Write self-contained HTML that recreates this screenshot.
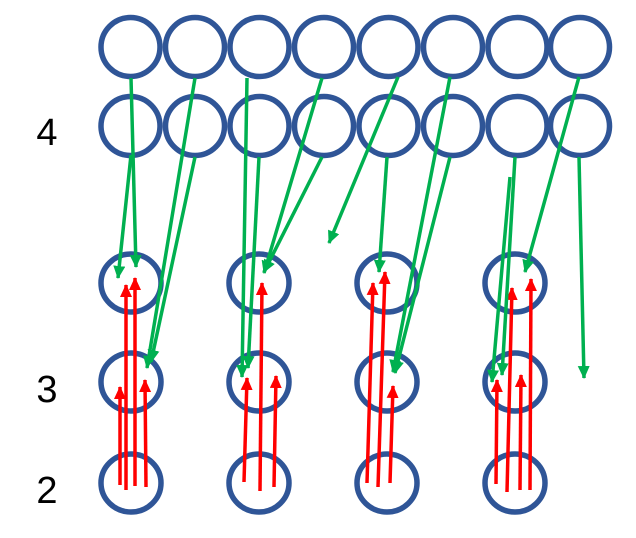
<!DOCTYPE html>
<html><head><meta charset="utf-8"><style>html,body{margin:0;padding:0;background:#fff}svg{display:block}</style></head>
<body>
<svg width="636" height="538" viewBox="0 0 636 538" xmlns="http://www.w3.org/2000/svg">
<defs>
<marker id="g" markerUnits="userSpaceOnUse" markerWidth="14" markerHeight="14" refX="12" refY="6" orient="auto"><path d="M0,0 L13,6 L0,12 z" fill="#00b050"/></marker>
<marker id="r" markerUnits="userSpaceOnUse" markerWidth="14" markerHeight="14" refX="12" refY="6" orient="auto"><path d="M0,0 L13,6 L0,12 z" fill="#ff0000"/></marker>
</defs>
<g fill="none" stroke="#2f5597" stroke-width="5.5">
<circle cx="130.5" cy="47" r="29.5"/><circle cx="195" cy="47" r="29.5"/><circle cx="259.5" cy="47" r="29.5"/><circle cx="324" cy="47" r="29.5"/><circle cx="388.5" cy="47" r="29.5"/><circle cx="453" cy="47" r="29.5"/><circle cx="517.5" cy="47" r="29.5"/><circle cx="580" cy="47" r="29.5"/>
<circle cx="130.5" cy="126" r="29.5"/><circle cx="195" cy="126" r="29.5"/><circle cx="259.5" cy="126" r="29.5"/><circle cx="324" cy="126" r="29.5"/><circle cx="388.5" cy="126" r="29.5"/><circle cx="453" cy="126" r="29.5"/><circle cx="517.5" cy="126" r="29.5"/><circle cx="580" cy="126" r="29.5"/>
<g>
<ellipse cx="131" cy="283" rx="30" ry="29"/><ellipse cx="259" cy="283" rx="30" ry="29"/><ellipse cx="387" cy="283" rx="30" ry="29"/><ellipse cx="515" cy="283" rx="30" ry="29"/>
<ellipse cx="131" cy="382" rx="30" ry="29"/><ellipse cx="259" cy="382" rx="30" ry="29"/><ellipse cx="387" cy="382" rx="30" ry="29"/><ellipse cx="515" cy="382" rx="30" ry="29"/>
<ellipse cx="131" cy="483" rx="30" ry="29"/><ellipse cx="259" cy="483" rx="30" ry="29"/><ellipse cx="387" cy="483" rx="30" ry="29"/><ellipse cx="515" cy="483" rx="30" ry="29"/>
</g></g>
<g stroke="#ff0000" stroke-width="3.5" marker-end="url(#r)">
<line x1="120" y1="485" x2="120" y2="387"/><line x1="126" y1="490" x2="126" y2="285"/><line x1="135" y1="486" x2="135" y2="278"/><line x1="146" y1="487" x2="145" y2="380"/>
<line x1="244" y1="482" x2="247" y2="378"/><line x1="260" y1="491" x2="262" y2="283"/><line x1="274" y1="487" x2="276" y2="376"/>
<line x1="367" y1="483" x2="373" y2="283"/><line x1="378" y1="487" x2="385" y2="272"/><line x1="390" y1="483" x2="393" y2="386"/>
<line x1="496" y1="484" x2="497" y2="380"/><line x1="507" y1="492" x2="512" y2="288"/><line x1="520" y1="490" x2="521" y2="375"/><line x1="530" y1="490" x2="531" y2="279"/>
</g>
<g stroke="#00b050" stroke-width="3.5" marker-end="url(#g)">
<line x1="131" y1="78" x2="136" y2="267"/><line x1="131" y1="155" x2="118" y2="278"/>
<line x1="195" y1="78" x2="147" y2="368"/><line x1="195" y1="157" x2="151" y2="362"/>
<line x1="247" y1="78" x2="242" y2="377"/><line x1="259" y1="157" x2="248" y2="368"/>
<line x1="322" y1="78" x2="264" y2="273"/><line x1="322" y1="157" x2="264" y2="272"/>
<line x1="398" y1="77" x2="329" y2="243"/><line x1="387" y1="157" x2="379" y2="272"/>
<line x1="450" y1="77" x2="393" y2="372"/><line x1="450" y1="157" x2="395" y2="373"/>
<line x1="515" y1="157" x2="502" y2="375"/><line x1="510" y1="177" x2="492" y2="382"/>
<line x1="579" y1="77" x2="525" y2="272"/><line x1="579" y1="157" x2="584" y2="378"/>
</g>
<g font-family="'Liberation Sans', sans-serif" font-size="38" fill="#000" text-anchor="middle">
<text x="47" y="145">4</text><text x="47" y="402">3</text><text x="47" y="503">2</text>
</g>
</svg>
</body></html>
